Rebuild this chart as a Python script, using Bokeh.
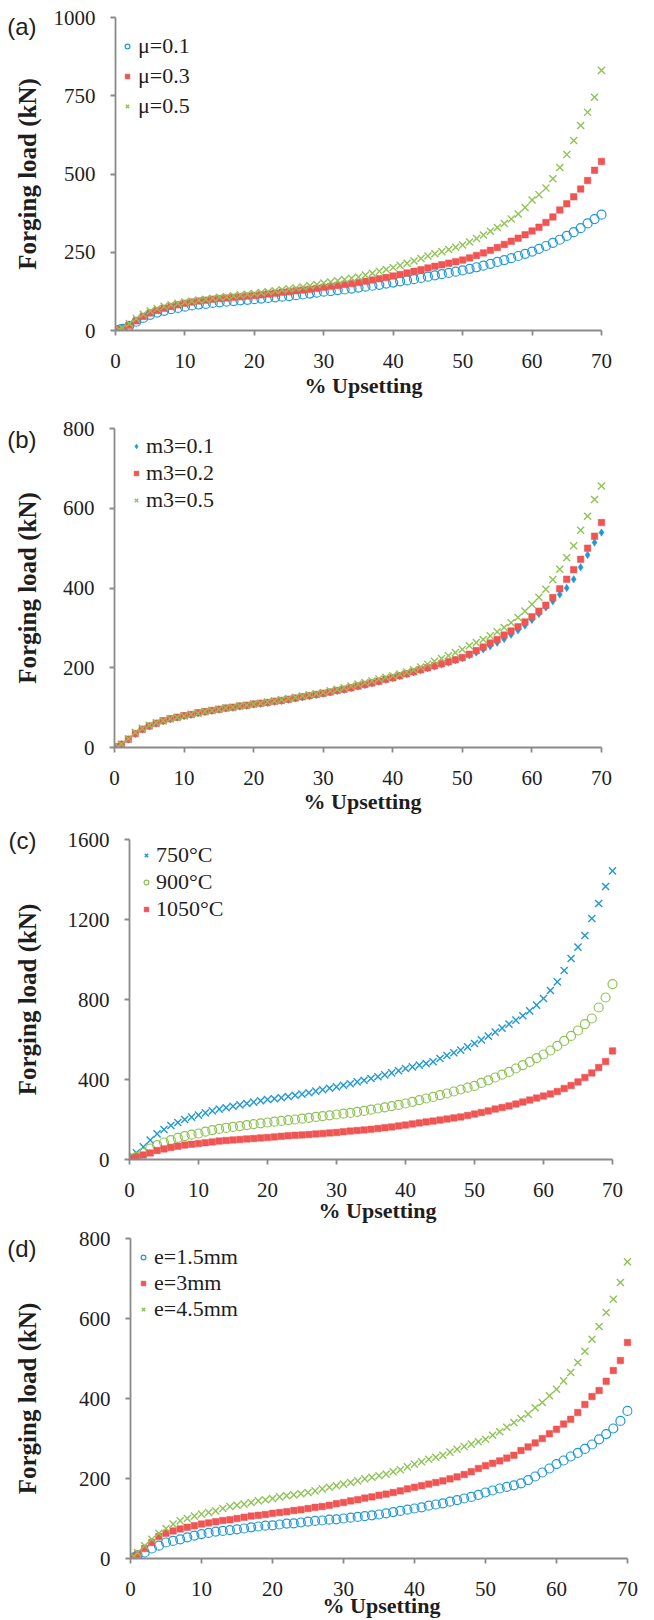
from bokeh.plotting import figure
from bokeh.models import Range1d, FixedTicker, Legend, LegendItem, LinearAxis, CustomJSTickFormatter
from bokeh.embed import file_html
from bokeh.resources import INLINE

# ---------------- data ----------------
X = [0.5, 1, 2, 3, 4, 5, 6, 7, 8, 9, 10,
     11, 12, 13, 14, 15, 16, 17, 18, 19, 20,
     21, 22, 23, 24, 25, 26, 27, 28, 29, 30,
     31, 32, 33, 34, 35, 36, 37, 38, 39, 40,
     41, 42, 43, 44, 45, 46, 47, 48, 49, 50,
     51, 52, 53, 54, 55, 56, 57, 58, 59, 60,
     61, 62, 63, 64, 65, 66, 67, 68, 69, 70]
X_TICKS = [0, 10, 20, 30, 40, 50, 60, 70]

# (a) friction factor mu
A_MU01 = [2, 5, 15, 28, 40, 50, 57, 63, 68, 72, 76,
          80, 83, 85, 88, 90, 92, 94, 96, 98, 100,
          102, 104, 106, 108, 110, 113, 115, 118, 121, 124,
          126, 129, 131, 134, 137, 140, 143, 146, 150, 153,
          157, 160, 164, 168, 172, 176, 180, 184, 188, 192,
          197, 202, 207, 213, 219, 225, 231, 238, 245, 252,
          261, 270, 280, 290, 302, 314, 327, 342, 356, 370]
A_MU03 = [2, 6, 17, 31, 45, 56, 64, 71, 77, 82, 87,
          91, 94, 97, 100, 102, 104, 106, 108, 110, 112,
          114, 117, 119, 122, 124, 127, 129, 132, 135, 138,
          141, 144, 147, 150, 153, 157, 161, 165, 169, 174,
          179, 184, 189, 194, 200, 205, 210, 215, 220, 225,
          232, 240, 248, 256, 265, 275, 285, 295, 306, 318,
          330, 345, 363, 385, 405, 427, 452, 479, 512, 540]
A_MU05 = [3, 8, 22, 38, 52, 62, 70, 77, 82, 87, 91,
          94, 97, 100, 103, 106, 108, 111, 113, 116, 118,
          121, 124, 127, 130, 133, 136, 139, 143, 147, 152,
          155, 159, 163, 167, 171, 177, 183, 189, 195, 201,
          208, 215, 222, 230, 238, 245, 252, 259, 266, 273,
          283, 294, 305, 317, 329, 342, 356, 372, 393, 417,
          434, 455, 485, 521, 562, 607, 655, 697, 745, 831]
A_YTICKS = [0, 250, 500, 750, 1000]

# (b) friction factor m3
B_M01 = [2, 8, 20, 34, 45, 53, 60, 66, 71, 75, 79,
         82, 86, 89, 92, 95, 98, 100, 103, 105, 108,
         110, 112, 115, 117, 120, 123, 126, 129, 132, 135,
         138, 142, 145, 149, 153, 157, 161, 165, 170, 174,
         179, 184, 189, 194, 199, 203, 208, 213, 219, 224,
         231, 238, 246, 254, 263, 272, 283, 294, 306, 320,
         335, 351, 367, 384, 400, 422, 452, 483, 514, 539]
B_M02 = [2, 8, 21, 35, 46, 54, 61, 67, 72, 76, 80,
         83, 87, 90, 93, 96, 99, 101, 104, 106, 109,
         111, 113, 116, 118, 121, 124, 127, 130, 133, 136,
         139, 143, 146, 150, 154, 158, 162, 166, 171, 175,
         180, 185, 190, 195, 200, 205, 210, 215, 220, 226,
         234, 243, 252, 262, 271, 282, 292, 303, 315, 328,
         342, 357, 376, 398, 422, 446, 472, 500, 530, 564]
B_M05 = [2, 8, 22, 38, 48, 56, 62, 67, 72, 76, 79,
         83, 86, 90, 93, 96, 99, 101, 104, 106, 109,
         111, 114, 117, 120, 123, 126, 129, 132, 135, 138,
         142, 146, 150, 154, 159, 163, 167, 172, 176, 180,
         184, 189, 195, 202, 209, 216, 223, 230, 238, 246,
         255, 263, 271, 280, 290, 301, 313, 326, 342, 359,
         377, 397, 421, 447, 476, 506, 545, 580, 622, 656]
B_YTICKS = [0, 200, 400, 600, 800]

# (c) temperature
C_750 = [15, 33, 63, 97, 128, 150, 170, 185, 200, 212, 222,
         233, 243, 252, 259, 266, 273, 280, 287, 294, 300,
         304, 309, 315, 321, 327, 334, 342, 349, 356, 363,
         371, 379, 388, 396, 405, 414, 423, 433, 444, 455,
         463, 472, 480, 489, 505, 520, 534, 547, 563, 580,
         598, 617, 637, 657, 677, 697, 719, 743, 772, 805,
         845, 888, 945, 1005, 1062, 1120, 1205, 1280, 1365, 1443]
C_900 = [5, 13, 33, 55, 72, 85, 97, 108, 117, 124, 130,
         139, 147, 153, 158, 163, 167, 172, 177, 181, 185,
         189, 193, 197, 200, 204, 208, 213, 217, 221, 225,
         229, 233, 238, 243, 249, 255, 261, 267, 273, 280,
         288, 297, 305, 313, 322, 330, 340, 350, 359, 368,
         383, 396, 410, 424, 438, 455, 472, 488, 507, 525,
         545, 568, 593, 618, 645, 677, 705, 760, 810, 877]
C_1050 = [5, 10, 23, 33, 45, 53, 60, 66, 72, 76, 80,
          84, 88, 92, 95, 98, 100, 103, 105, 108, 110,
          113, 116, 119, 121, 123, 125, 128, 130, 133, 135,
          139, 142, 145, 148, 151, 155, 159, 163, 168, 172,
          178, 183, 188, 192, 197, 202, 208, 213, 220, 227,
          235, 243, 252, 260, 268, 277, 287, 297, 307, 317,
          328, 340, 355, 370, 388, 410, 433, 460, 490, 543]
C_YTICKS = [0, 400, 800, 1200, 1600]

# (d) flash thickness e
D_15 = [3, 8, 15, 25, 32, 40, 44, 48, 53, 57, 61,
        64, 67, 69, 71, 73, 75, 78, 80, 82, 83,
        85, 87, 88, 90, 92, 94, 95, 97, 98, 100,
        102, 104, 106, 108, 110, 113, 116, 119, 122, 125,
        128, 132, 135, 138, 142, 146, 150, 154, 159, 165,
        170, 175, 179, 183, 188, 196, 205, 215, 225, 236,
        245, 255, 264, 274, 285, 298, 311, 325, 344, 369]
D_3 = [4, 11, 25, 40, 55, 63, 69, 74, 78, 82, 86,
       89, 92, 95, 97, 100, 103, 106, 108, 110, 113,
       115, 117, 120, 122, 125, 128, 130, 133, 137, 140,
       144, 147, 151, 154, 158, 161, 165, 169, 174, 178,
       182, 186, 190, 194, 199, 204, 210, 217, 225, 232,
       238, 244, 251, 258, 270, 279, 289, 300, 312, 323,
       336, 348, 365, 385, 405, 420, 443, 470, 495, 540]
D_45 = [5, 15, 32, 48, 63, 75, 86, 94, 100, 106, 111,
        115, 119, 125, 130, 133, 136, 140, 144, 147, 150,
        154, 157, 159, 162, 165, 169, 174, 178, 182, 186,
        190, 194, 199, 203, 207, 211, 217, 222, 229, 236,
        242, 248, 253, 258, 266, 273, 280, 286, 292, 298,
        308, 317, 328, 340, 350, 361, 377, 390, 407, 423,
        444, 465, 490, 518, 548, 580, 615, 648, 690, 742]
D_YTICKS = [0, 200, 400, 600, 800]

X_LABEL = "% Upsetting"
Y_LABEL = "Forging load (kN)"

# ---------------- styling ----------------
BLUE = "#2199D6"
RED = "#EE5553"
GREEN = "#8FC356"
AXIS = "#8A8A8A"
TEXT = "#1E1E1E"
SERIF = "Liberation Serif, Times New Roman, serif"
SANS = "Liberation Sans"
FIG_W = 654

MARK = {
    "o": dict(marker="circle", size=9, fill_color=None, line_width=1.2),
    "s": dict(marker="square", size=6.5, line_width=0.5),
    "x": dict(marker="x", size=10, line_width=1.4),
    "d": dict(marker="diamond", size=7.5, line_width=0.5),
}

PANELS = [
    dict(tag="(a)", yticks=A_YTICKS,
         series=[("\u03bc=0.1", A_MU01, "o", BLUE), ("\u03bc=0.3", A_MU03, "s", RED), ("\u03bc=0.5", A_MU05, "x", GREEN)],
         H=403, top=17, fh=313, left=115, px70=486, fw=496, ysa=10,
         leg=(6, 209), lst=5, lgap=30, tag_dy=9, xsa=2),
    dict(tag="(b)", yticks=B_YTICKS,
         series=[("m3=0.1", B_M01, "d", BLUE), ("m3=0.2", B_M02, "s", RED), ("m3=0.5", B_M05, "x", GREEN)],
         H=415, top=25, fh=319, left=114, px70=487, fw=496, ysa=19,
         leg=(16, 234), lst=4, lgap=27, tag_dy=11, xsa=1),
    dict(tag="(c)", yticks=C_YTICKS,
         series=[("750\u00b0C", C_750, "x", BLUE), ("900\u00b0C", C_900, "o", GREEN), ("1050\u00b0C", C_1050, "s", RED)],
         H=407, top=21, fh=320, left=129, px70=483, fw=496, ysa=24,
         leg=(11, 237), lst=4, lgap=27, tag_dy=1, xsa=-2),
    dict(tag="(d)", yticks=D_YTICKS,
         series=[("e=1.5mm", D_15, "o", BLUE), ("e=3mm", D_3, "s", RED), ("e=4.5mm", D_45, "x", GREEN)],
         H=395, top=13, fh=320, left=130, px70=497, fw=502, ysa=35,
         leg=(7, 236), lst=5, lgap=24, tag_dy=10, xsa=-6),
]


def style_axis(ax, ticks):
    ax.ticker = FixedTicker(ticks=ticks)
    ax.axis_line_color = AXIS
    ax.axis_line_width = 1.8
    ax.major_tick_line_color = AXIS
    ax.major_tick_line_width = 1.8
    ax.major_tick_out = 5
    ax.major_tick_in = 0
    ax.minor_tick_line_color = None
    ax.major_label_text_font = SERIF
    ax.major_label_text_font_size = "21px"
    ax.major_label_text_color = TEXT
    ax.axis_label_text_font = SERIF
    ax.axis_label_text_font_style = "bold"
    ax.axis_label_text_color = TEXT


figs = []
for cfg in PANELS:
    ymax = cfg["yticks"][-1]
    xpu = cfg["px70"] / 70.0
    ypu = cfg["fh"] / ymax
    p = figure(width=FIG_W, height=cfg["H"], output_backend="svg", toolbar_location=None,
               x_range=Range1d(0, cfg["fw"] / xpu), y_range=Range1d(0, ymax),
               min_border_left=cfg["left"], min_border_right=FIG_W - cfg["left"] - cfg["fw"],
               min_border_top=cfg["top"], min_border_bottom=cfg["H"] - cfg["top"] - cfg["fh"])
    p.outline_line_color = None
    p.grid.visible = False
    p.background_fill_color = "white"
    p.border_fill_color = "white"

    xa = p.xaxis[0]
    style_axis(xa, X_TICKS)
    xa.bounds = (0, 70)
    xa.major_label_standoff = 18
    xa.axis_label = X_LABEL
    xa.axis_label_text_font_size = "22px"
    xa.axis_label_standoff = cfg["xsa"]

    ya = p.yaxis[0]
    style_axis(ya, cfg["yticks"])
    ya.major_label_standoff = 15
    ya.axis_label = Y_LABEL
    ya.axis_label_text_font_size = "25px"
    ya.axis_label_standoff = cfg["ysa"]

    # panel tag "(a)".. drawn as the only label of an extra, line-less left axis
    tag_axis = LinearAxis(ticker=FixedTicker(ticks=[ymax - cfg["tag_dy"] / ypu]),
                          formatter=CustomJSTickFormatter(code="return %r;" % cfg["tag"]),
                          axis_line_color=None, major_tick_line_color=None, minor_tick_line_color=None,
                          major_tick_out=0, major_tick_in=0, major_label_standoff=-26,
                          major_label_text_font=SANS, major_label_text_font_size="24px",
                          major_label_text_color=TEXT)
    p.add_layout(tag_axis, "left")

    items = []
    for label, ys, mk, col in cfg["series"]:
        kw = dict(MARK[mk])
        kw["line_color"] = col
        if mk in ("s", "d"):
            kw["fill_color"] = col
        r = p.scatter(X, ys, **kw)
        items.append(LegendItem(label=label, renderers=[r]))

    leg = Legend(items=items, location=cfg["leg"], orientation="vertical",
                 border_line_color=None, background_fill_alpha=0,
                 padding=0, margin=0, spacing=0,
                 glyph_width=12, glyph_height=18, label_height=cfg["lgap"],
                 label_standoff=cfg["lst"],
                 label_text_font=SERIF, label_text_font_size="22px", label_text_color=TEXT)
    p.add_layout(leg)
    figs.append(p)

open("out.html", "w").write(file_html(figs, INLINE))
